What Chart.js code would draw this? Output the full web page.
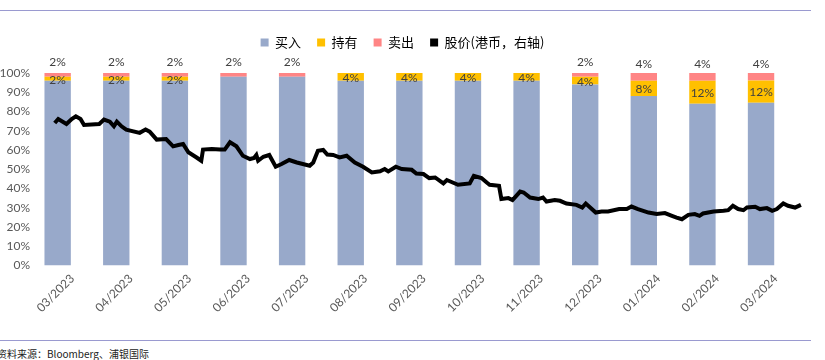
<!DOCTYPE html>
<html>
<head>
<meta charset="utf-8">
<script src="https://cdn.jsdelivr.net/npm/chart.js@4"></script>
<style>
  body { margin: 0; width: 825px; height: 360px; background: #fff; position: relative; overflow: hidden; }
  .rule { position: absolute; left: 0; width: 811px; height: 0; border-top: 1px solid #9a9ad0; }
  #wrap { position: absolute; left: 0; top: 12px; width: 825px; height: 326px; }
  #src { position: absolute; left: -3px; top: 346px; font: 10px "Noto Sans CJK SC", sans-serif; color: #222; }
</style>
</head>
<body>
<div class="rule" style="top:10px"></div>
<div id="wrap"><canvas id="grafico"></canvas></div>
<div class="rule" style="top:340px"></div>
<div id="src">资料来源：Bloomberg、浦银国际</div>
<script>
// Categorias (meses)
const meses = ['03/2023', '04/2023', '05/2023', '06/2023', '07/2023', '08/2023', '09/2023',
  '10/2023', '11/2023', '12/2023', '01/2024', '02/2024', '03/2024'];

// Percentual de recomendações
const comprar = [96, 96, 96, 98, 98, 96, 96, 96, 96, 94, 88, 84, 84.6];
const manter = [2, 2, 2, 0, 0, 4, 4, 4, 4, 4, 8, 12, 11.5];
const vender = [2, 2, 2, 2, 2, 0, 0, 0, 0, 2, 4, 4, 3.9];

// Preço da ação (eixo direito, oculto) - posição em meses desde 03/2023
const precoPos = [0.20, 0.26, 0.40, 0.49, 0.56, 0.64, 0.70, 0.96, 1.04, 1.14, 1.21, 1.26, 1.34, 1.42,
  1.65, 1.75, 1.82, 1.94, 2.10, 2.22, 2.31, 2.39, 2.48, 2.62, 2.70, 2.73, 2.88, 3.02, 3.10, 3.19,
  3.30, 3.41, 3.53, 3.60, 3.64, 3.67, 3.76, 3.86, 3.97, 4.07, 4.20, 4.33, 4.55, 4.61, 4.69, 4.78,
  4.85, 4.95, 5.06, 5.18, 5.32, 5.46, 5.61, 5.75, 5.83, 5.89, 6.02, 6.12, 6.29, 6.37, 6.49, 6.59,
  6.69, 6.83, 6.89, 7.08, 7.28, 7.35, 7.48, 7.57, 7.62, 7.78, 7.82, 7.94, 8.01, 8.14, 8.20, 8.31,
  8.45, 8.53, 8.59, 8.73, 8.82, 8.93, 9.10, 9.20, 9.26, 9.43, 9.53, 9.64, 9.83, 9.96, 10.04, 10.15,
  10.33, 10.47, 10.61, 10.73, 10.81, 10.90, 11.01, 11.12, 11.20, 11.26, 11.44, 11.61, 11.69, 11.77,
  11.86, 11.95, 12.01, 12.15, 12.23, 12.35, 12.44, 12.52, 12.63, 12.71, 12.83, 12.93];
const precoValor = [74.0, 76.1, 73.5, 76.1, 77.5, 76.1, 73.0, 73.5, 75.8, 74.7, 72.3, 74.7, 72.3, 70.6,
  68.9, 70.6, 69.5, 65.4, 65.7, 61.9, 62.6, 63.1, 58.8, 56.1, 54.4, 60.2, 60.5, 60.2, 60.2, 64.0,
  61.9, 57.0, 55.3, 55.8, 57.4, 54.4, 56.5, 57.4, 51.3, 52.7, 54.8, 53.5, 51.8, 53.5, 59.6, 60.0,
  57.6, 57.4, 56.1, 57.0, 53.5, 51.3, 48.3, 48.9, 50.1, 48.9, 51.3, 50.1, 49.7, 47.8, 47.5, 45.4,
  45.7, 42.6, 44.4, 41.9, 42.6, 46.6, 45.4, 43.1, 41.9, 41.4, 34.5, 35.0, 34.0, 38.4, 37.9, 35.3,
  34.5, 35.3, 33.2, 34.0, 33.6, 32.2, 31.5, 30.1, 32.2, 27.5, 28.0, 28.0, 29.3, 29.3, 30.6, 29.3,
  27.5, 26.7, 27.2, 25.8, 24.9, 24.0, 26.3, 26.7, 25.8, 27.0, 28.0, 28.4, 28.7, 31.0,
  29.3, 28.7, 30.1, 30.5, 29.3, 29.8, 28.4, 29.3, 32.2, 31.0, 30.1, 31.5];

const pontosPreco = precoPos.map((p, i) => ({ x: p, y: precoValor[i] }));

const fonteNum = 'Lato, "Liberation Sans", sans-serif';

// Rótulos de dados (持有 dentro da barra, 卖出 acima)
const rotulos = {
  id: 'rotulos',
  afterDatasetsDraw(chart) {
    const ctx = chart.ctx;
    ctx.save();
    ctx.font = '12px ' + fonteNum;
    ctx.fillStyle = '#404040';
    ctx.textAlign = 'center';
    ctx.textBaseline = 'middle';
    [1, 2].forEach(ds => {
      const meta = chart.getDatasetMeta(ds);
      const valores = chart.data.datasets[ds].data;
      meta.data.forEach((bar, i) => {
        if (!valores[i]) return;
        const meio = (bar.y + bar.base) / 2;
        const y = ds === 1 ? meio + 1 : meio - 13;
        ctx.fillText(Math.round(valores[i]) + '%', bar.x, y);
      });
    });
    ctx.restore();
  }
};

// Espaço extra abaixo da legenda
const margemLegenda = {
  id: 'margemLegenda',
  beforeInit(chart) {
    const fitOriginal = chart.legend.fit;
    chart.legend.fit = function () {
      fitOriginal.bind(chart.legend)();
      this.height += 14;
    };
  }
};

const ctx = document.getElementById('grafico').getContext('2d');
const grafico = new Chart(ctx, {
  data: {
    labels: meses,
    datasets: [
      { type: 'bar', label: '买入', data: comprar, backgroundColor: '#98A9CA', order: 2, barPercentage: 0.9, categoryPercentage: 1 },
      { type: 'bar', label: '持有', data: manter, backgroundColor: '#FFC000', order: 2, barPercentage: 0.9, categoryPercentage: 1 },
      { type: 'bar', label: '卖出', data: vender, backgroundColor: '#FF8585', order: 2, barPercentage: 0.9, categoryPercentage: 1 },
      {
        type: 'line', label: '股价(港币，右轴)', data: pontosPreco,
        xAxisID: 'x2', yAxisID: 'y2',
        borderColor: '#000', backgroundColor: '#000', borderWidth: 4,
        pointRadius: 0, tension: 0, order: 1
      }
    ]
  },
  options: {
    responsive: true,
    maintainAspectRatio: false,
    animation: false,
    layout: { padding: { left: 0, right: 20, top: 8, bottom: 17 } },
    scales: {
      x: {
        stacked: true,
        grid: { display: false, drawTicks: false },
        border: { display: false },
        ticks: { maxRotation: 45, minRotation: 45, padding: 6, color: '#595959', font: { family: fonteNum, size: 12 } }
      },
      y: {
        stacked: true,
        min: 0, max: 100,
        grid: { display: false, drawTicks: false },
        border: { display: false },
        afterFit: function (scale) { scale.width = 43; },
        ticks: { stepSize: 10, padding: 13, color: '#595959', font: { family: fonteNum, size: 12 },
          callback: v => v + '%' }
      },
      x2: { type: 'linear', min: 0, max: 13, display: false },
      y2: { min: 0, max: 100, display: false, position: 'right' }
    },
    plugins: {
      tooltip: { enabled: false },
      legend: {
        display: true,
        position: 'top',
        labels: {
          boxWidth: 8,
          boxHeight: 8,
          padding: 16,
          color: '#595959',
          font: { family: '"Noto Sans CJK SC", sans-serif', size: 13 },
          generateLabels: function (chart) {
            return chart.data.datasets.map((d, i) => ({
              text: d.label,
              fillStyle: d.type === 'line' ? '#000' : d.backgroundColor,
              strokeStyle: 'transparent',
              lineWidth: 0,
              hidden: false,
              datasetIndex: i
            }));
          }
        }
      }
    }
  },
  plugins: [rotulos, margemLegenda]
});
</script>
</body>
</html>
